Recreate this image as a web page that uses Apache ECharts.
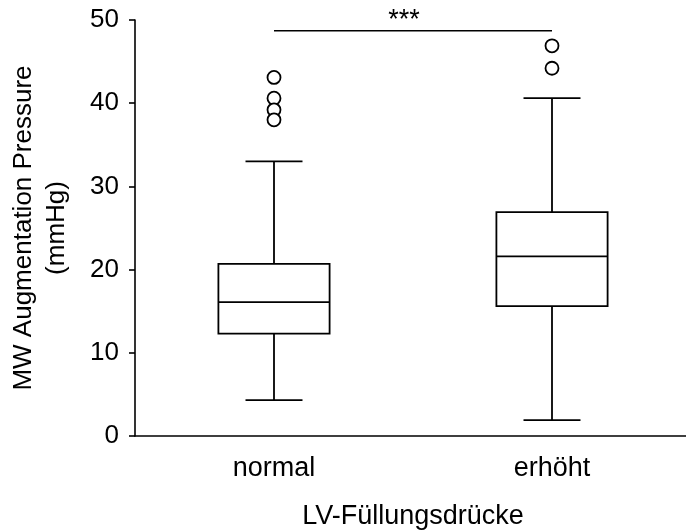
<!DOCTYPE html>
<html>
<head>
<meta charset="utf-8">
<script src="https://cdn.jsdelivr.net/npm/echarts@6/dist/echarts.min.js"></script>
<style>html,body{margin:0;padding:0;background:#fff}#c{width:686px;height:531px}</style>
</head>
<body>
<div id="c"></div>
<script>
var categories = ['normal', 'erhöht'];
// [lower whisker, Q1, median, Q3, upper whisker]
var boxNormal = [4.3, 12.3, 16.1, 20.7, 33.0];
var boxErhoeht = [1.9, 15.6, 21.6, 26.9, 40.6];
var outliersNormal = [43.1, 40.6, 39.2, 38.0];
var outliersErhoeht = [46.9, 44.2];
var sigValue = 48.7;
var sigLabel = '***';
var yTicks = [0, 10, 20, 30, 40, 50];

var FONT = 'Liberation Sans, Arial, sans-serif';
var boxes = [boxNormal, boxErhoeht];
var boxData = boxes.map(function (b, i) { return [i].concat(b); });
var outData = [];
outliersNormal.forEach(function (v) { outData.push([0, v]); });
outliersErhoeht.forEach(function (v) { outData.push([1, v]); });

var chart = echarts.init(document.getElementById('c'));
chart.setOption({
  animation: false,
  backgroundColor: '#fff',
  grid: { left: 135, right: -5, top: 20, bottom: 95, containLabel: false, outerBoundsMode: 'none' },
  xAxis: {
    type: 'category',
    data: categories,
    name: 'LV-Füllungsdrücke',
    nameLocation: 'middle',
    nameGap: 67,
    nameTextStyle: { color: '#000', fontSize: 27, fontFamily: FONT },
    axisLine: { lineStyle: { color: '#000', width: 1.6 } },
    axisTick: { alignWithLabel: true, inside: true, length: 6, lineStyle: { color: '#000', width: 1.6 } },
    axisLabel: { color: '#000', fontSize: 27, fontFamily: FONT, margin: 19 },
    splitLine: { show: false }
  },
  yAxis: {
    type: 'value',
    min: yTicks[0],
    max: yTicks[yTicks.length - 1],
    interval: 10,
    name: 'MW Augmentation Pressure\n(mmHg)',
    nameLocation: 'middle',
    nameGap: 62,
    nameRotate: 90,
    nameTextStyle: { color: '#000', fontSize: 26, fontFamily: FONT, lineHeight: 33 },
    axisLine: { show: true, lineStyle: { color: '#000', width: 1.6 } },
    axisTick: { show: true, inside: false, length: 6, lineStyle: { color: '#000', width: 1.6 } },
    axisLabel: { color: '#000', fontSize: 26, fontFamily: FONT, margin: 16 },
    splitLine: { show: false }
  },
  series: [
    {
      type: 'custom',
      data: boxData,
      encode: { x: 0, y: [1, 2, 3, 4, 5] },
      renderItem: function (params, api) {
        var idx = api.value(0);
        var band = api.size([1, 0])[0];
        var bw = band * 0.4;
        var cw = band * 0.205;
        var pLow = api.coord([idx, api.value(1)]);
        var pQ1 = api.coord([idx, api.value(2)]);
        var pMed = api.coord([idx, api.value(3)]);
        var pQ3 = api.coord([idx, api.value(4)]);
        var pHigh = api.coord([idx, api.value(5)]);
        var x = pMed[0];
        var st = { stroke: '#000', lineWidth: 1.8, fill: null };
        return {
          type: 'group',
          children: [
            { type: 'line', shape: { x1: x, y1: pHigh[1], x2: x, y2: pQ3[1] }, style: st },
            { type: 'line', shape: { x1: x, y1: pQ1[1], x2: x, y2: pLow[1] }, style: st },
            { type: 'line', shape: { x1: x - cw / 2, y1: pHigh[1], x2: x + cw / 2, y2: pHigh[1] }, style: st },
            { type: 'line', shape: { x1: x - cw / 2, y1: pLow[1], x2: x + cw / 2, y2: pLow[1] }, style: st },
            { type: 'rect', shape: { x: x - bw / 2, y: pQ3[1], width: bw, height: pQ1[1] - pQ3[1] }, style: { stroke: '#000', lineWidth: 1.8, fill: '#fff' } },
            { type: 'line', shape: { x1: x - bw / 2, y1: pMed[1], x2: x + bw / 2, y2: pMed[1] }, style: st }
          ]
        };
      },
      z: 2
    },
    {
      type: 'scatter',
      data: outData,
      symbol: 'circle',
      symbolSize: 13,
      itemStyle: { color: '#fff', borderColor: '#000', borderWidth: 1.8, opacity: 1 },
      z: 3
    },
    {
      type: 'custom',
      data: [[0, 1, sigValue]],
      encode: { x: [0, 1], y: 2 },
      renderItem: function (params, api) {
        var p1 = api.coord([api.value(0), api.value(2)]);
        var p2 = api.coord([api.value(1), api.value(2)]);
        return {
          type: 'group',
          children: [
            { type: 'line', shape: { x1: p1[0], y1: p1[1], x2: p2[0], y2: p2[1] }, style: { stroke: '#000', lineWidth: 1.6 } },
            { type: 'text', x: (p1[0] + p2[0]) / 2 - 9, y: p1[1] - 10.5,
              style: { text: sigLabel, fill: '#000', fontSize: 27, fontFamily: FONT, align: 'center', verticalAlign: 'middle' } }
          ]
        };
      },
      z: 3
    }
  ]
});
</script>
</body>
</html>
